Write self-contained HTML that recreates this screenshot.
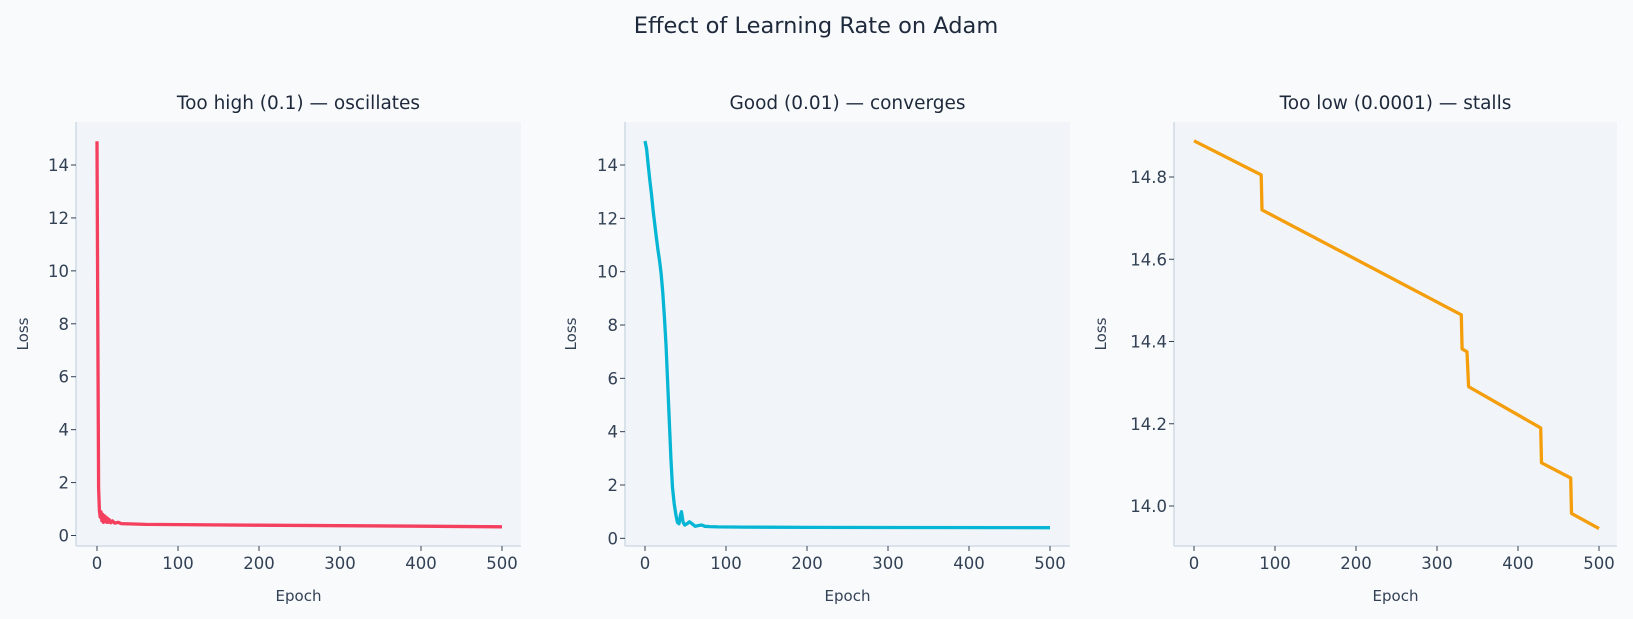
<!DOCTYPE html>
<html><head><meta charset="utf-8"><style>
body{margin:0;background:#f8fafc;}
svg{display:block;font-family:"DejaVu Sans","Liberation Sans",sans-serif;}
</style></head><body>
<svg id="s" width="1633" height="619" viewBox="0 0 1633 619">
<rect width="1633" height="619" fill="#f8fafc"/>
<text x="816" y="33" text-anchor="middle" font-size="22.5" fill="#1e293b">Effect of Learning Rate on Adam</text>
</svg>
<script>
const s=document.getElementById('s');
function el(t,a,txt){const e=document.createElementNS('http://www.w3.org/2000/svg',t);for(const k in a)e.setAttribute(k,a[k]);if(txt!==undefined)e.textContent=txt;s.appendChild(e);return e;}
function panel(o){
 const {L,R,T,B,x0,x500,yv,yp,yt,title,color,data,fmt,lo}=o;
 el('rect',{x:L,y:T,width:R-L,height:B-T,fill:'#f1f5f9'});
 el('line',{x1:L,y1:T,x2:L,y2:B,stroke:'#cbd5e1','stroke-width':1.3});
 el('line',{x1:L,y1:B,x2:R,y2:B,stroke:'#cbd5e1','stroke-width':1.3});
 const X=v=>x0+(x500-x0)*v/500;
 const Y=v=>yp[0]+(yp[1]-yp[0])*(v-yv[0])/(yv[1]-yv[0]);
 for(let v=0;v<=500;v+=100){const x=X(v);el('line',{x1:x,y1:B,x2:x,y2:B+5,stroke:'#334155','stroke-width':1});
  el('text',{x:x,y:B+23,'text-anchor':'middle','font-size':16.5,fill:'#334155'},v);}
 for(const v of yt){const y=Y(v);el('line',{x1:L-5,y1:y,x2:L,y2:y,stroke:'#334155','stroke-width':1});
  el('text',{x:L-7,y:y+6,'text-anchor':'end','font-size':16.5,fill:'#334155'},fmt(v));}
 el('text',{x:(L+R)/2,y:109,'text-anchor':'middle','font-size':18.5,fill:'#1e293b'},title);
 el('text',{x:(L+R)/2,y:601,'text-anchor':'middle','font-size':15,fill:'#334155'},'Epoch');
 const lx=L-lo,ly=(T+B)/2;
 el('text',{x:lx,y:ly,'text-anchor':'middle','font-size':15,fill:'#334155',transform:`rotate(-90 ${lx} ${ly})`},'Loss');
 el('polyline',{points:data.map(p=>X(p[0]).toFixed(1)+','+Y(p[1]).toFixed(1)).join(' '),fill:'none',stroke:color,'stroke-width':3.3,'stroke-linejoin':'round'});
}
let d1=[[0,14.9],[1,8],[2,1.8],[3,0.95],[4,0.7],[5,0.9],[6,0.55],[7,0.8],[8,0.5],[9,0.75],[10,0.55],[11,0.7],[12,0.5],[13,0.65],[14,0.5],[15,0.6],[17,0.48],[19,0.55],[22,0.47],[26,0.5],[30,0.45],[40,0.44],[60,0.42],[100,0.41],[200,0.39],[300,0.37],[400,0.35],[500,0.33]];
panel({L:76,R:521,T:122,B:546,x0:97,x500:502,yv:[0,14],yp:[535.5,165],yt:[0,2,4,6,8,10,12,14],title:'Too high (0.1) — oscillates',color:'#f43f5e',data:d1,fmt:v=>v,lo:48});
let d2=[[0,14.9],[2,14.6],[4,14.0],[6,13.4],[8,12.9],[10,12.3],[12,11.8],[14,11.3],[16,10.8],[18,10.4],[20,9.9],[22,9.2],[24,8.3],[26,7.2],[28,5.8],[30,4.4],[32,3.0],[34,1.9],[36,1.3],[38,0.9],[40,0.6],[42,0.55],[44,0.9],[45,1.0],[47,0.6],[49,0.5],[52,0.55],[55,0.62],[58,0.55],[62,0.45],[66,0.48],[70,0.5],[74,0.45],[80,0.44],[90,0.43],[120,0.42],[200,0.41],[500,0.4]];
panel({L:625,R:1070,T:122,B:546,x0:645,x500:1050,yv:[2,14],yp:[485,165],yt:[0,2,4,6,8,10,12,14],title:'Good (0.01) — converges',color:'#06b6d4',data:d2,fmt:v=>v,lo:49});
let d3=[[0,14.888],[83,14.805],[84,14.72],[330,14.465],[331,14.382],[337,14.375],[339,14.29],[428,14.19],[429,14.105],[465,14.068],[466,13.982],[500,13.945]];
panel({L:1174,R:1617,T:122,B:546,x0:1194,x500:1599,yv:[14.0,14.8],yp:[506,177],yt:[14.0,14.2,14.4,14.6,14.8],title:'Too low (0.0001) — stalls',color:'#f59e0b',data:d3,fmt:v=>v.toFixed(1),lo:68});
</script>
</body></html>
